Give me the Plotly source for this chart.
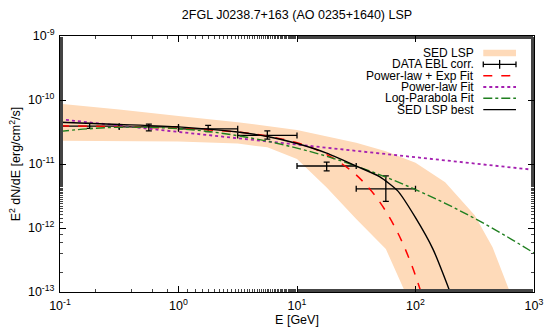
import plotly.graph_objects as go

# SED LSP band: upper and lower edge (E in GeV, E^2 dN/dE in erg/cm2/s)
band_e_up = [0.1, 0.316, 1.0, 3.16, 10.0, 31.6, 56.2, 100.0, 178.0, 316.0, 447.0, 631.0, 794.0]
band_f_up = [8.7e-11, 7.1e-11, 5.6e-11, 4.5e-11, 3.4e-11, 2.14e-11, 1.58e-11, 1.05e-11,
             5.2e-12, 1.58e-12, 5.0e-13, 1.0e-13, 3.2e-14]
band_e_lo = [0.1, 0.316, 1.0, 3.16, 5.62, 10.0, 17.8, 31.6, 56.2, 79.4, 100.0]
band_f_lo = [2.3e-11, 2.3e-11, 2.24e-11, 2.09e-11, 1.82e-11, 1.2e-11, 4.3e-12,
             1.38e-12, 4.7e-13, 1.12e-13, 4.0e-14]

# DATA EBL corr.
data_e = [0.178, 0.562, 1.78, 5.62, 17.8, 56.2]
data_e_lo = [0.1, 0.316, 1.0, 3.16, 10.0, 31.6]
data_e_hi = [0.316, 1.0, 3.16, 10.0, 31.6, 100.0]
data_f = [3.9e-11, 3.8e-11, 3.55e-11, 2.8e-11, 9.3e-12, 4.1e-12]
data_f_lo = [3.6e-11, 3.3e-11, 3.2e-11, 2.45e-11, 7.8e-12, 2.6e-12]
data_f_hi = [4.3e-11, 4.2e-11, 4.0e-11, 3.3e-11, 1.07e-11, 6.5e-12]

# Power-law + Exp Fit
plexp_e = [0.1, 0.3, 1, 3, 5, 10, 15, 20, 30, 40, 50, 60, 70, 80, 90, 100, 115, 130]
plexp_f = [3.96e-11, 3.83e-11, 3.61e-11, 3.18e-11, 2.83e-11, 2.15e-11, 1.64e-11, 1.25e-11,
           7.33e-12, 4.31e-12, 2.54e-12, 1.49e-12, 8.8e-13, 5.19e-13, 3.05e-13, 1.8e-13,
           8.2e-14, 3.7e-14]

# Power-law Fit
pl_e = [0.1, 1, 10, 100, 1000]
pl_f = [5.0e-11, 3.16e-11, 2.0e-11, 1.28e-11, 8.1e-12]

# Log-Parabola Fit
logpar_e = [0.1, 0.178, 0.316, 0.562, 1, 1.78, 3.16, 5.62, 10, 17.8, 31.6, 56.2, 100,
            178, 316, 562, 1000]
logpar_f = [3.24e-11, 3.56e-11, 3.75e-11, 3.74e-11, 3.56e-11, 3.22e-11, 2.77e-11, 2.27e-11,
            1.77e-11, 1.32e-11, 9.28e-12, 6.24e-12, 3.99e-12, 2.43e-12, 1.41e-12, 7.76e-13,
            4.07e-13]

# SED LSP best
best_e = [0.1, 0.316, 1, 3.16, 5.62, 10, 17.8, 31.6, 50.1, 70.8, 100, 141, 200, 224]
best_f = [4.5e-11, 4.15e-11, 3.8e-11, 3.16e-11, 2.69e-11, 2.09e-11, 1.48e-11, 9.3e-12,
          6.3e-12, 3.8e-12, 1.45e-12, 4.6e-13, 8.9e-14, 4.5e-14]

x_tickvals = [0.1, 1, 10, 100, 1000]
x_ticktext = ['10<sup>-1</sup>', '10<sup>0</sup>', '10<sup>1</sup>', '10<sup>2</sup>', '10<sup>3</sup>']
y_tickvals = [1e-13, 1e-12, 1e-11, 1e-10, 1e-9]
y_ticktext = ['10<sup>-13</sup>', '10<sup>-12</sup>', '10<sup>-11</sup>', '10<sup>-10</sup>', '10<sup>-9</sup>']

legend_labels = ['SED LSP', 'DATA EBL corr.', 'Power-law + Exp Fit', 'Power-law Fit',
                 'Log-Parabola Fit', 'SED LSP best']

FONT = 'Liberation Sans, Arial, Helvetica, sans-serif'
BAND = 'rgb(254,218,185)'
RED = '#ff0000'
MAGENTA = '#a41fb0'
GREEN = '#1f7f1f'

fig = go.Figure()

fig.add_trace(go.Scatter(
    x=band_e_up + band_e_lo[::-1],
    y=band_f_up + band_f_lo[::-1],
    fill='toself', fillcolor=BAND, mode='lines', line=dict(width=0),
    name=legend_labels[0], hoverinfo='skip'))

fig.add_trace(go.Scatter(
    x=data_e, y=data_f, mode='markers', name=legend_labels[1],
    marker=dict(size=1, color='black'),
    error_x=dict(type='data', symmetric=False,
                 array=[h - c for h, c in zip(data_e_hi, data_e)],
                 arrayminus=[c - l for c, l in zip(data_e, data_e_lo)],
                 color='black', thickness=1.3, width=3),
    error_y=dict(type='data', symmetric=False,
                 array=[h - c for h, c in zip(data_f_hi, data_f)],
                 arrayminus=[c - l for c, l in zip(data_f, data_f_lo)],
                 color='black', thickness=1.3, width=3)))

fig.add_trace(go.Scatter(x=plexp_e, y=plexp_f, mode='lines', name=legend_labels[2],
                         line=dict(color=RED, width=1.5, dash='dash', shape='spline')))
fig.add_trace(go.Scatter(x=pl_e, y=pl_f, mode='lines', name=legend_labels[3],
                         line=dict(color=MAGENTA, width=1.8, dash='dot')))
fig.add_trace(go.Scatter(x=logpar_e, y=logpar_f, mode='lines', name=legend_labels[4],
                         line=dict(color=GREEN, width=1.4, dash='dashdot', shape='spline')))
fig.add_trace(go.Scatter(x=best_e, y=best_f, mode='lines', name=legend_labels[5],
                         line=dict(color='black', width=1.4, shape='spline', smoothing=0.6)))

# gnuplot-style key: text right-aligned, sample on the right
PH = 260.0
row_h = 11.5 / PH
top_y = 0.9335
tx = 0.878
s0, s1 = 0.893, 0.962
for i, lab in enumerate(legend_labels):
    yy = top_y - i * row_h
    fig.add_annotation(x=tx, y=yy, xref='paper', yref='paper', text=lab, showarrow=False,
                       xanchor='right', yanchor='middle', font=dict(size=12, color='black'))
dy = 3.4 / PH
y0 = top_y
fig.add_shape(type='rect', xref='paper', yref='paper', x0=s0, x1=s1, y0=y0 - dy, y1=y0 + dy,
              fillcolor=BAND, line=dict(width=0))
y1 = top_y - row_h
fig.add_shape(type='line', xref='paper', yref='paper', x0=s0, x1=s1, y0=y1, y1=y1,
              line=dict(color='black', width=1.3))
for xc, h in [(s0, 3), (s1, 3), ((s0 + s1) / 2, 4.5)]:
    fig.add_shape(type='line', xref='paper', yref='paper', x0=xc, x1=xc,
                  y0=y1 - h / PH, y1=y1 + h / PH, line=dict(color='black', width=1.3))
for i, (col, dash, w) in enumerate([(RED, 'dash', 1.5), (MAGENTA, 'dot', 1.8),
                                    (GREEN, 'dashdot', 1.4), ('black', 'solid', 1.4)]):
    yy = top_y - (i + 2) * row_h
    fig.add_shape(type='line', xref='paper', yref='paper', x0=s0, x1=s1, y0=yy, y1=yy,
                  line=dict(color=col, width=w, dash=dash))

axis_common = dict(
    type='log', showgrid=False, zeroline=False, showline=True, linecolor='black',
    linewidth=1, mirror='allticks', ticks='inside', ticklen=6, tickcolor='black',
    tickfont=dict(size=12.5, color='black'), ticklabeloverflow='allow',
    ticklabelstandoff=2,
    minor=dict(ticks='inside', ticklen=3, tickcolor='#444', showgrid=False),
)

fig.update_layout(
    width=556, height=334,
    margin=dict(l=60, r=20, t=36, b=38),
    paper_bgcolor='white', plot_bgcolor='white',
    font=dict(family=FONT, color='black', size=12.5),
    showlegend=False,
    title=dict(text='2FGL J0238.7+163 (AO 0235+1640) LSP', x=0.5, xref='paper',
               y=1 - 15 / 334, yanchor='middle', font=dict(size=12.5)),
    xaxis=dict(axis_common, range=[-1, 3], tickvals=x_tickvals, ticktext=x_ticktext,
               title=dict(text='E [GeV]', standoff=0, font=dict(size=12.5))),
    yaxis=dict(axis_common, range=[-13, -9], tickvals=y_tickvals, ticktext=y_ticktext,
               title=dict(text='E<sup>2</sup> dN/dE [erg/cm<sup>2</sup>/s]', standoff=4,
                          font=dict(size=12.5))),
)

# the page body has a default 8px margin; remove it so the figure sits at the top-left
fig.write_html('out.html', config={'displayModeBar': False, 'staticPlot': True},
               post_script="document.body.style.margin='0';")
